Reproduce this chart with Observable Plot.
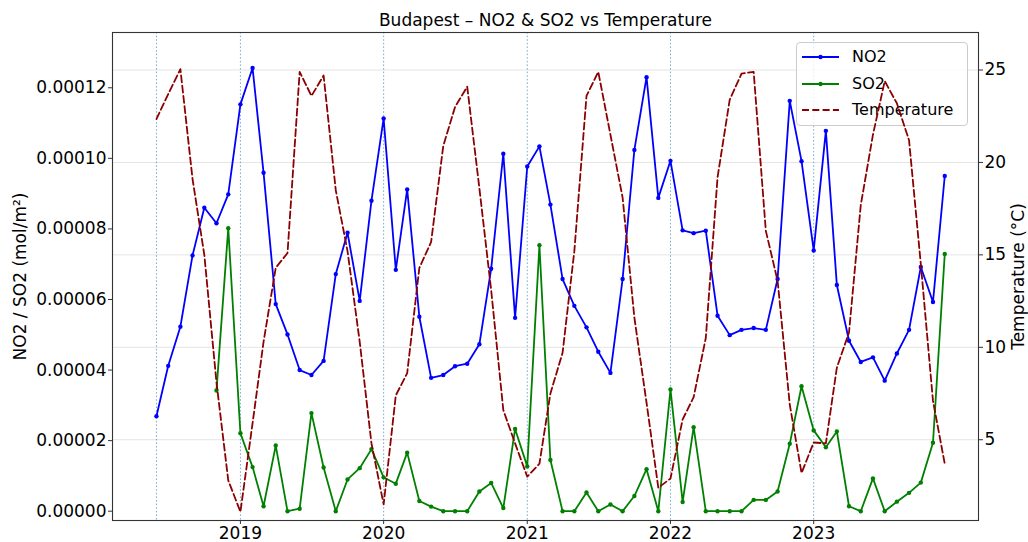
<!DOCTYPE html>
<html><head><meta charset="utf-8">
<script src="https://cdn.jsdelivr.net/npm/d3@7"></script>
<script src="https://cdn.jsdelivr.net/npm/@observablehq/plot@0.6"></script>
<style>
html,body{margin:0;padding:0;background:#fff;}
#wrap{position:relative;width:1028px;height:542px;font-family:"DejaVu Sans",sans-serif;overflow:hidden;}
#wrap svg.chart{position:absolute;left:0;top:0;}
#legend{position:absolute;left:796px;top:42px;width:172px;height:84px;box-sizing:border-box;border:1px solid #cccccc;border-radius:4px;background:rgba(255,255,255,0.8);font-size:16px;color:#000;}
#legend .row{position:absolute;left:0;height:22px;line-height:22px;white-space:nowrap;}
#legend .row svg{position:absolute;left:5px;top:6px;}
#legend .row span{position:absolute;left:55px;top:0;}
</style></head><body><div id="wrap"></div>
<script>
// ---- data ----
const months = [
  "2018-06","2018-07","2018-08","2018-09","2018-10","2018-11","2018-12",
  "2019-01","2019-02","2019-03","2019-04","2019-05","2019-06","2019-07","2019-08","2019-09","2019-10","2019-11","2019-12",
  "2020-01","2020-02","2020-03","2020-04","2020-05","2020-06","2020-07","2020-08","2020-09","2020-10","2020-11","2020-12",
  "2021-01","2021-02","2021-03","2021-04","2021-05","2021-06","2021-07","2021-08","2021-09","2021-10","2021-11","2021-12",
  "2022-01","2022-02","2022-03","2022-04","2022-05","2022-06","2022-07","2022-08","2022-09","2022-10","2022-11","2022-12",
  "2023-01","2023-02","2023-03","2023-04","2023-05","2023-06","2023-07","2023-08","2023-09","2023-10","2023-11","2023-12"
];
const no2 = [
  2.69e-5,4.12e-5,5.23e-5,7.25e-5,8.60e-5,8.16e-5,8.98e-5,
  11.53e-5,12.56e-5,9.59e-5,5.87e-5,5.01e-5,4.00e-5,3.86e-5,4.26e-5,6.72e-5,7.89e-5,5.96e-5,8.80e-5,
  11.13e-5,6.84e-5,9.12e-5,5.51e-5,3.78e-5,3.86e-5,4.11e-5,4.18e-5,4.73e-5,6.87e-5,10.13e-5,5.48e-5,
  9.77e-5,10.34e-5,8.69e-5,6.58e-5,5.82e-5,5.21e-5,4.52e-5,3.92e-5,6.58e-5,10.24e-5,12.30e-5,8.88e-5,
  9.93e-5,7.96e-5,7.88e-5,7.95e-5,5.54e-5,4.99e-5,5.14e-5,5.19e-5,5.14e-5,6.58e-5,11.63e-5,9.92e-5,
  7.39e-5,10.78e-5,6.41e-5,4.83e-5,4.23e-5,4.36e-5,3.70e-5,4.47e-5,5.14e-5,6.92e-5,5.93e-5,9.50e-5
];
const so2 = [
  null,null,null,null,null,3.42e-5,8.02e-5,
  2.21e-5,1.25e-5,0.14e-5,1.86e-5,0,0.07e-5,2.78e-5,1.24e-5,0,0.90e-5,1.22e-5,1.76e-5,
  0.96e-5,0.78e-5,1.66e-5,0.29e-5,0.13e-5,0,0,0,0.56e-5,0.80e-5,0.09e-5,2.33e-5,
  1.27e-5,7.54e-5,1.45e-5,0,0,0.53e-5,0,0.19e-5,0,0.43e-5,1.19e-5,0,
  3.45e-5,0.26e-5,2.38e-5,0,0,0,0,0.32e-5,0.32e-5,0.56e-5,1.91e-5,3.54e-5,
  2.29e-5,1.81e-5,2.26e-5,0.14e-5,0,0.93e-5,0,0.27e-5,0.52e-5,0.81e-5,1.94e-5,7.29e-5
];
const temperature = [
  22.35,23.7,25.05,19.1,15.0,8.1,2.8,
  1.1,5.9,10.3,14.3,15.1,24.9,23.6,24.7,18.5,15.2,10.3,4.8,
  1.5,7.4,8.6,14.3,15.7,20.9,23.0,24.1,18.6,13.1,6.6,4.8,
  3.0,3.7,7.5,9.7,15.2,23.6,24.9,21.5,18.1,11.6,7.0,2.4,
  2.9,6.1,7.3,10.5,19.2,23.4,24.8,24.9,16.3,13.6,6.9,3.2,
  4.85,4.8,8.9,10.8,17.7,21.5,24.4,23.2,21.2,14.5,7.1,3.7
];
const yearTicks = ["2019-01-01","2020-01-01","2021-01-01","2022-01-01","2023-01-01"];
const refLines = ["2018-06-01","2019-01-01","2020-01-01","2021-01-01","2022-01-01","2023-01-01"];
const leftTicks = [0, 0.00002, 0.00004, 0.00006, 0.00008, 0.00010, 0.00012];
const tempTicks = [5, 10, 15, 20, 25];
const titleText = "Budapest – NO2 & SO2 vs Temperature";
const leftLabel = "NO2 / SO2 (mol/m²)";
const rightLabel = "Temperature (°C)";
const seriesNames = ["NO2", "SO2", "Temperature"];
const seriesColors = ["#0000ff", "#008000", "#8b0000"];

// ---- scales ----
const xDomain = [new Date("2018-02-09"), new Date("2024-02-25")];
const yDomain = [-2.636e-6, 1.3567e-4];
const tDomain = [0.63, 27.03];
const toY = t => yDomain[0] + (t - tDomain[0]) / (tDomain[1] - tDomain[0]) * (yDomain[1] - yDomain[0]);

const rows = months.map((m, i) => ({date: new Date(m + "-01"), no2: no2[i], so2: so2[i], temp: temperature[i]}));

const common = {
  width: 1028, height: 542,
  marginLeft: 112, marginRight: 50, marginTop: 32, marginBottom: 22,
  x: {type: "utc", domain: xDomain, axis: null},
  y: {domain: yDomain, axis: null},
  style: {fontFamily: "DejaVu Sans, sans-serif", fontSize: "17px", color: "#000", background: "transparent", overflow: "visible"}
};

const tickLabel = new Map(tempTicks.map(t => [toY(t), String(t)]));

const plot1 = Plot.plot({
  ...common,
  style: {...common.style, background: "white"},
  marks: [
    Plot.ruleY(tempTicks, {y: d => toY(d), stroke: "#e4e4e4", strokeWidth: 1}),
    Plot.ruleX(refLines.map(d => new Date(d)), {stroke: "#1f77b4", strokeOpacity: 0.75, strokeWidth: 0.8, strokeDasharray: "1.6,2"}),
    Plot.line(rows, {x: "date", y: "no2", stroke: seriesColors[0], strokeWidth: 1.8}),
    Plot.dot(rows, {x: "date", y: "no2", fill: seriesColors[0], r: 2.2}),
    Plot.line(rows, {x: "date", y: "so2", stroke: seriesColors[1], strokeWidth: 1.8}),
    Plot.dot(rows.filter(d => d.so2 != null), {x: "date", y: "so2", fill: seriesColors[1], r: 2.2}),
    Plot.frame({stroke: "#333", strokeWidth: 1.1}),
    Plot.axisY(leftTicks, {anchor: "left", tickFormat: d => d.toFixed(5), tickSize: 4, tickPadding: 2, fontSize: 17, label: null, stroke: "#333"}),
    Plot.axisY(tempTicks.map(toY), {anchor: "right", tickFormat: d => tickLabel.get(d), tickSize: 4, tickPadding: 2, fontSize: 17, label: null, stroke: "#333"}),
    Plot.axisX(yearTicks.map(d => new Date(d)), {tickFormat: d3.utcFormat("%Y"), tickSize: 4, tickPadding: 2, fontSize: 17, label: null, stroke: "#333"}),
    Plot.text([titleText], {text: d => d, frameAnchor: "top", lineAnchor: "middle", textAnchor: "middle", dy: -12, fontSize: 17}),
    Plot.text([leftLabel], {text: d => d, frameAnchor: "left", lineAnchor: "middle", textAnchor: "middle", dx: -92, rotate: -90, fontSize: 17}),
    Plot.text([rightLabel], {text: d => d, frameAnchor: "right", lineAnchor: "middle", textAnchor: "middle", dx: 40, rotate: -90, fontSize: 17})
  ]
});

const plot2 = Plot.plot({
  ...common,
  marks: [
    Plot.line(rows, {x: "date", y: d => toY(d.temp), stroke: seriesColors[2], strokeWidth: 1.8, strokeDasharray: "7,3.3"})
  ]
});

const wrap = document.getElementById("wrap");
plot1.classList.add("chart");
plot2.classList.add("chart");
wrap.appendChild(plot1);

// legend (HTML, text kept as text)
const legend = d3.select(wrap).append("div").attr("id", "legend");
const rowTops = [3, 29.5, 56];
seriesNames.forEach((name, i) => {
  const row = legend.append("div").attr("class", "row").style("top", rowTops[i] + "px");
  const sw = row.append("svg").attr("width", 40).attr("height", 10);
  sw.append("line").attr("x1", 0).attr("x2", 37).attr("y1", 5).attr("y2", 5)
    .attr("stroke", seriesColors[i]).attr("stroke-width", 1.8)
    .attr("stroke-dasharray", i === 2 ? "7,3.3" : null);
  if (i < 2) sw.append("circle").attr("cx", 18.5).attr("cy", 5).attr("r", 2.2).attr("fill", seriesColors[i]);
  row.append("span").text(name);
});

wrap.appendChild(plot2);
</script>
</body></html>
